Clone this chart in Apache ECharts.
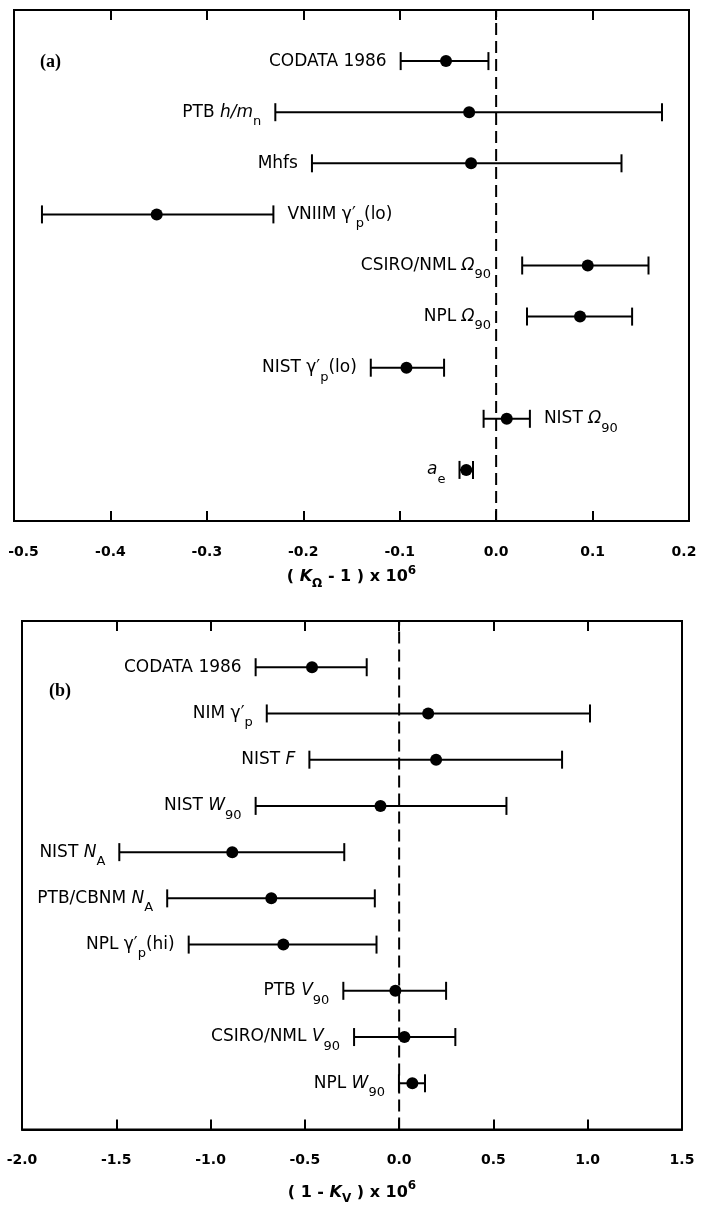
<!DOCTYPE html>
<html>
<head>
<meta charset="utf-8">
<script src="https://cdn.jsdelivr.net/npm/echarts@6/dist/echarts.min.js"></script>
<style>
    html, body { margin: 0; padding: 0; background: #fff; }
    #main { width: 701px; height: 1206px; }
</style>
</head>
<body>
<div id="main"></div>
<script>
// panel (a): (K_Omega - 1) x 1e6, rows listed top to bottom
var labelsA = ['CODATA 1986', 'PTB {i|h/m}{sub|n}', 'Mhfs', 'VNIIM γ′{sub|p}(lo)', 'CSIRO/NML {i|Ω}{sub|90}',
    'NPL {i|Ω}{sub|90}', 'NIST γ′{sub|p}(lo)', 'NIST {i|Ω}{sub|90}', '{i|a}{sub|e}'];
var lowA = [-0.099, -0.229, -0.191, -0.471, 0.027, 0.032, -0.130, -0.013, -0.038];
var valA = [-0.052, -0.028, -0.026, -0.352, 0.095, 0.087, -0.093, 0.011, -0.031];
var highA = [-0.008, 0.172, 0.130, -0.231, 0.158, 0.141, -0.054, 0.035, -0.024];
var sideA = ['L', 'L', 'L', 'R', 'L', 'L', 'L', 'R', 'L'];

// panel (b): (1 - K_V) x 1e6
var labelsB = ['CODATA 1986', 'NIM γ′{sub|p}', 'NIST {i|F}', 'NIST {i|W}{sub|90}', 'NIST {i|N}{sub|A}',
    'PTB/CBNM {i|N}{sub|A}', 'NPL γ′{sub|p}(hi)', 'PTB {i|V}{sub|90}', 'CSIRO/NML {i|V}{sub|90}', 'NPL {i|W}{sub|90}'];
var lowB = [-0.761, -0.702, -0.476, -0.761, -1.484, -1.230, -1.116, -0.296, -0.239, -0.001];
var valB = [-0.462, 0.154, 0.196, -0.099, -0.885, -0.678, -0.614, -0.020, 0.028, 0.070];
var highB = [-0.172, 1.012, 0.864, 0.569, -0.291, -0.129, -0.120, 0.249, 0.298, 0.137];
var sideB = ['L', 'L', 'L', 'L', 'L', 'L', 'L', 'L', 'L', 'L'];

var ticksA = {min: -0.5, max: 0.2, interval: 0.1};
var ticksB = {min: -2.0, max: 1.5, interval: 0.5};

var textFont = 'DejaVu Sans';

function buildRows(low, val, high) {
    return low.map(function (v, i) {
        return [low[i], val[i], high[i], low.length - i];
    });
}

// rich styles for the custom-series labels (zrender style names)
var richItem = {
    i: {fontFamily: textFont, fontSize: 17, fontStyle: 'italic', fill: '#000'},
    sub: {fontFamily: textFont, fontSize: 13, height: 9, verticalAlign: 'bottom', fill: '#000'}
};

function errorBars(labels, sides) {
    return function (params, api) {
        var y = api.coord([0, api.value(3)])[1];
        var x0 = api.coord([0, 0])[0];
        var xl = api.coord([api.value(0), 0])[0];
        var xv = api.coord([api.value(1), 0])[0];
        var xh = api.coord([api.value(2), 0])[0];
        var right = sides[params.dataIndex] === 'R';
        // left labels of bars lying right of zero sit just left of the dashed line
        var tx = right ? xh + 14 : (xl > x0 ? Math.min(xl - 14, x0 - 5) : xl - 14);
        var ls = {stroke: '#000', lineWidth: 2};
        return {
            type: 'group',
            children: [
                {type: 'line', shape: {x1: xl, y1: y, x2: xh, y2: y}, style: ls},
                {type: 'line', shape: {x1: xl, y1: y - 9, x2: xl, y2: y + 9}, style: ls},
                {type: 'line', shape: {x1: xh, y1: y - 9, x2: xh, y2: y + 9}, style: ls},
                {type: 'circle', shape: {cx: xv, cy: y, r: 6}, style: {fill: '#000'}},
                {
                    type: 'text',
                    style: {
                        x: tx,
                        y: y,
                        text: labels[params.dataIndex],
                        align: right ? 'left' : 'right',
                        verticalAlign: 'middle',
                        fill: '#000',
                        fontFamily: textFont,
                        fontSize: 17,
                        lineHeight: 28,
                        rich: richItem
                    }
                }
            ]
        };
    };
}

function tickFormatter(ticks) {
    return function (v) {
        if (Math.abs(v - ticks.min) < 1e-9) return '{l|' + v.toFixed(1) + '}';
        if (Math.abs(v - ticks.max) < 1e-9) return '{r|' + v.toFixed(1) + '}';
        return v.toFixed(1);
    };
}

var tickRich = function (padL, padR) {
    var base = {fontFamily: textFont, fontSize: 14, fontWeight: 'bold', color: '#000'};
    return {
        l: Object.assign({padding: [0, 0, 0, padL]}, base),
        r: Object.assign({padding: [0, padR, 0, 0]}, base)
    };
};

var nameRich = {
    i: {fontFamily: textFont, fontSize: 16, fontWeight: 'bold', fontStyle: 'italic', color: '#000'},
    sub: {fontFamily: textFont, fontSize: 12, fontWeight: 'bold', height: 9, verticalAlign: 'bottom', color: '#000'},
    sup: {fontFamily: textFont, fontSize: 12, fontWeight: 'bold', height: 9, verticalAlign: 'top', color: '#000'}
};

function bottomAxis(grid, ticks, name, gap, padL, padR) {
    return {
        type: 'value',
        gridIndex: grid,
        position: 'bottom',
        min: ticks.min,
        max: ticks.max,
        interval: ticks.interval,
        splitLine: {show: false},
        axisLine: {show: true, lineStyle: {color: '#000', width: 2}},
        axisTick: {show: true, inside: true, length: 10, lineStyle: {color: '#000', width: 2}},
        axisLabel: {
            margin: 24,
            color: '#000',
            fontFamily: textFont,
            fontSize: 14,
            fontWeight: 'bold',
            formatter: tickFormatter(ticks),
            rich: tickRich(padL, padR)
        },
        name: name,
        nameLocation: 'middle',
        nameGap: gap,
        nameTextStyle: {
            color: '#000',
            fontFamily: textFont,
            fontSize: 16,
            fontWeight: 'bold',
            lineHeight: 22,
            rich: nameRich
        }
    };
}

function topAxis(grid, ticks) {
    return {
        type: 'value',
        gridIndex: grid,
        position: 'top',
        min: ticks.min,
        max: ticks.max,
        interval: ticks.interval,
        splitLine: {show: false},
        axisLine: {show: true, lineStyle: {color: '#000', width: 2}},
        axisTick: {show: true, inside: true, length: 10, lineStyle: {color: '#000', width: 2}},
        axisLabel: {show: false}
    };
}

function zeroLine(xIdx, yIdx, top) {
    return {
        type: 'line',
        xAxisIndex: xIdx,
        yAxisIndex: yIdx,
        data: [[0, 0], [0, top]],
        showSymbol: false,
        silent: true,
        lineStyle: {color: '#000', width: 2, type: [12, 6]}
    };
}

var myChart = echarts.init(document.getElementById('main'));

var option = {
    backgroundColor: '#fff',
    animation: false,
    grid: [
        {left: 14, top: 10, width: 675, height: 511, show: true, borderColor: '#000', borderWidth: 2},
        {left: 22, top: 621, width: 660, height: 510, show: true, borderColor: '#000', borderWidth: 2}
    ],
    xAxis: [
        bottomAxis(0, ticksA, '( {i|K}{sub|Ω} - 1 ) x 10{sup|6}', 45, 19, 10),
        topAxis(0, ticksA),
        bottomAxis(1, ticksB, '( 1 - {i|K}{sub|V} ) x 10{sup|6}', 52, 0, 0),
        topAxis(1, ticksB)
    ],
    yAxis: [
        {type: 'value', gridIndex: 0, min: 0, max: labelsA.length + 1, show: false},
        {type: 'value', gridIndex: 1, min: 0, max: labelsB.length + 1, show: false}
    ],
    graphic: [
        {type: 'text', left: 40, top: 53, style: {text: '(a)', font: 'bold 18px "Liberation Serif"', fill: '#000'}},
        {type: 'text', left: 49, top: 682, style: {text: '(b)', font: 'bold 18px "Liberation Serif"', fill: '#000'}}
    ],
    series: [
        zeroLine(0, 0, labelsA.length + 1),
        {
            type: 'custom',
            xAxisIndex: 0,
            yAxisIndex: 0,
            data: buildRows(lowA, valA, highA),
            encode: {x: [0, 1, 2], y: 3},
            renderItem: errorBars(labelsA, sideA),
            clip: false
        },
        zeroLine(2, 1, labelsB.length + 1),
        {
            type: 'custom',
            xAxisIndex: 2,
            yAxisIndex: 1,
            data: buildRows(lowB, valB, highB),
            encode: {x: [0, 1, 2], y: 3},
            renderItem: errorBars(labelsB, sideB),
            clip: false
        }
    ]
};
myChart.setOption(option);
</script>
</body>
</html>
